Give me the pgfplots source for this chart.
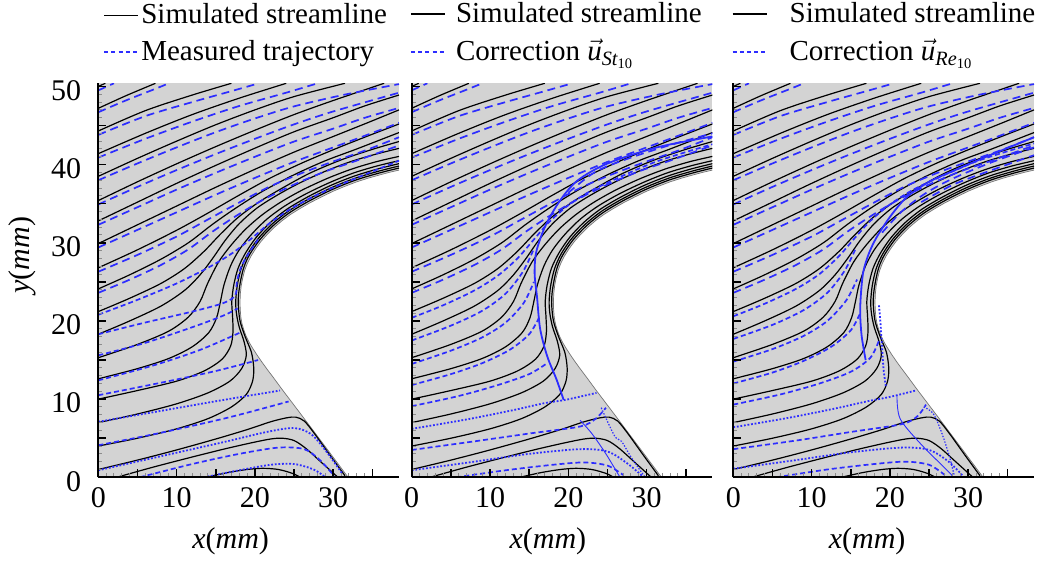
\documentclass[border=0pt]{standalone}
\usepackage{amsmath}
\usepackage{fontspec}
\setmainfont{Liberation Serif}
\usepackage{pgfplots}
\pgfplotsset{compat=1.18}
\definecolor{bgc}{RGB}{211,211,211}
\definecolor{blueL}{RGB}{45,45,255}

\pgfplotsset{
 sline/.style={black, line width=0.6pt, smooth, tension=0.5, forget plot},
 ldash/.style={blueL, line width=0.85pt, dash pattern=on 4pt off 2.5pt, smooth, tension=0.5, forget plot},
 sdash/.style={blueL, line width=0.85pt, dash pattern=on 2.5pt off 1.5pt, smooth, tension=0.5, forget plot},
 dotl/.style={blueL, line width=0.9pt, dash pattern=on 0.9pt off 0.9pt, smooth, tension=0.5, forget plot},
 thickb/.style={blueL, line width=0.9pt, smooth, tension=0.5, forget plot},
 thinb/.style={blueL, line width=0.45pt, smooth, tension=0.5, forget plot},
 thindot/.style={blueL, line width=0.6pt, dash pattern=on 0.7pt off 0.8pt, smooth, tension=0.5, forget plot},
 panel/.style={
  scale only axis, width=150.35pt, height=197pt, anchor=south west,
  xmin=0, xmax=38.4, ymin=0, ymax=50.4,
  axis x line=bottom, axis y line=left,
  axis line style={-, line width=1pt},
  tick align=inside,
  xtick={0,5,...,35}, xticklabels={0,,10,,20,,30,},
  ytick={0,5,...,50},
  minor x tick num=4, minor y tick num=4,
  major tick length=4pt, minor tick length=2pt,
  every major tick/.append style={black, line width=0.8pt},
  every minor tick/.append style={black!45, line width=0.5pt},
  axis background/.style={fill=bgc},
  axis on top,
  /pgf/number format/assume math mode=true,
  tick label style={font=\fontsize{15}{15}\selectfont},
  xticklabel style={yshift=-1.5pt},
  yticklabel style={xshift=-5pt, yshift=-2pt},
  xlabel={\textit{x}(\textit{mm})},
  every axis x label/.style={at={(axis description cs:0.44,-0.162)}, anchor=center, font=\fontsize{15}{18}\selectfont},
  every axis y label/.style={at={(axis description cs:-0.254,0.564)}, rotate=90, anchor=center, font=\fontsize{15}{18}\selectfont},
  legend style={draw=none, fill=none, inner sep=0pt, nodes={inner sep=1pt}, row sep=5pt,
     font=\fontsize{14.5}{17}\selectfont, anchor=south west},
  legend cell align=left,
 }
}

\newcommand{\bodyshape}{%
\addplot[fill=white, draw=none, forget plot] coordinates {
(31.9,0) (29,3.9) (26,7.9) (23.5,11.2) (22.4,12.7) (21.5,13.9) (20.85,14.8) (20.3,15.6) (19.75,16.45) (19.3,17.2) (18.9,18.0) (18.6,18.8) (18.35,19.65) (18.2,20.5) (18.12,21.5) (18.1,22.5) (18.14,23.5) (18.25,24.5) (18.44,25.5) (18.7,26.5) (19.05,27.4) (19.5,28.3) (20.1,29.25) (20.8,30.2) (21.6,31.1) (22.5,32.0) (23.5,32.85) (24.5,33.6) (25.7,34.35) (27,35.1) (28.5,35.87) (30,36.6) (31.5,37.23) (33,37.8) (34.5,38.28) (36,38.7) (37.2,39.02) (38.4,39.3) (39.5,39.55) (39.5,-1) (32.6,-1)} -- cycle;
\addplot[draw=black!55, line width=0.35pt, forget plot] coordinates {
(31.9,0) (29,3.9) (26,7.9) (23.5,11.2) (22.4,12.7) (21.5,13.9) (20.85,14.8) (20.3,15.6) (19.75,16.45) (19.3,17.2) (18.9,18.0) (18.6,18.8) (18.35,19.65) (18.2,20.5) (18.12,21.5) (18.1,22.5) (18.14,23.5) (18.25,24.5) (18.44,25.5) (18.7,26.5) (19.05,27.4) (19.5,28.3) (20.1,29.25) (20.8,30.2) (21.6,31.1) (22.5,32.0) (23.5,32.85) (24.5,33.6) (25.7,34.35) (27,35.1) (28.5,35.87) (30,36.6) (31.5,37.23) (33,37.8) (34.5,38.28) (36,38.7) (37.2,39.02) (38.4,39.3)};
}

\newcommand{\blacklines}{%
\addplot[sline] coordinates {(0,50.0) (0.9,50.4)};
\addplot[sline] coordinates {(0,47.2) (3.5,48.8) (7.3,50.4)};
\addplot[sline] coordinates {(0,44.3) (6,46.9) (12,48.9) (17,50.4)};
\addplot[sline] coordinates {(0,41.4) (6,44.0) (12,46.4) (18,48.5) (24,50.4)};
\addplot[sline] coordinates {(0,38.5) (5,40.8) (10,43.0) (15,45.1) (20,47.0) (25,48.7) (31.5,50.4)};
\addplot[sline] coordinates {(0,35.4) (5,37.8) (10,40.1) (15,42.3) (20,44.4) (25,46.4) (30,48.2) (36.5,50.4)};
\addplot[sline] coordinates {(0,32.8) (5,35.2) (10,37.6) (15,39.9) (20,42.1) (25,44.2) (30,46.0) (34,47.5) (38.4,48.9)};
\addplot[sline] coordinates {(0,29.9) (5,32.3) (10,34.7) (15,37.1) (20,39.4) (25,41.6) (30,43.6) (34,45.2) (38.4,47.0)};
\addplot[sline] coordinates {(0,26.8) (5,29.1) (10,31.6) (14,33.8) (18,36.1) (22,38.3) (26,40.2) (30,41.9) (34,43.5) (38.4,45.2)};
\addplot[sline] coordinates {(0,24.1) (4,25.9) (8,27.9) (11.5,30.0) (14.5,32.3) (17.5,34.4) (21,36.6) (25,38.7) (29,40.5) (33,42.0) (38.4,44.1)};
\addplot[sline] coordinates {(0,21.2) (4,22.9) (8,24.8) (11,26.7) (13.5,28.9) (15.5,31.0) (17.8,33.2) (20.5,35.2) (23.5,37.0) (27,38.9) (31,40.6) (35,41.95) (38.4,42.95)};
\addplot[sline] coordinates {(0,18.3) (4,20.0) (8,21.9) (11,23.9) (13,25.9) (14.6,28.0) (16.2,30.3) (18.0,32.45) (20.26,34.44) (22.79,36.06) (25.63,37.61) (28.87,39.1) (32.11,40.34) (35.27,41.29) (38.4,42.08)};
\addplot[sline] coordinates {(0,15.3) (5,17.0) (9,18.7) (11.5,20.5) (13.0,22.5) (13.96,24.8) (15.37,27.55) (16.98,29.72) (18.85,31.78) (21.0,33.63) (23.36,35.24) (26.09,36.77) (29.26,38.24) (32.42,39.45) (35.53,40.38) (38.4,41.05)};
\addplot[sline] coordinates {(0,12.6) (5,13.9) (9,15.2) (12,16.7) (14.1,18.5) (15.1,20.4) (15.6,22.5) (16.06,24.65) (16.9,27.07) (18.02,29.13) (19.63,31.15) (21.55,33.04) (23.76,34.67) (26.4,36.2) (29.51,37.69) (32.6,38.93) (35.68,39.85) (38.4,40.5)};
\addplot[sline] coordinates {(0,10.0) (5,11.1) (10,12.3) (13.5,13.6) (15.8,15.1) (16.9,16.8) (17.2,18.6) (17.15,20.5) (17.05,22.5) (17.3,24.6) (17.85,26.74) (18.8,28.69) (20.18,30.7) (21.96,32.59) (24.04,34.26) (26.62,35.8) (29.67,37.33) (32.74,38.55) (35.78,39.47) (38.4,40.12)};
\addplot[sline] coordinates {(0,7.0) (5,8.1) (10,9.4) (14,10.8) (16.8,12.3) (18.3,13.9) (18.9,15.6) (18.6,17.4) (18.0,19.2) (17.65,20.9) (17.55,22.5) (17.75,24.54) (18.23,26.65) (19.07,28.55) (20.41,30.52) (22.16,32.37) (24.22,34.01) (26.76,35.54) (29.8,37.06) (32.84,38.27) (35.87,39.18) (38.4,39.82)};
\addplot[sline] coordinates {(0,4.0) (5,5.0) (10,6.2) (14,7.5) (17,9.0) (18.9,10.6) (19.7,12.3) (19.85,14.0) (19.55,16.0) (18.75,18.0) (18.1,20.0) (17.88,22.0) (17.92,23.5) (18.2,25.3) (18.6,26.9) (19.28,28.42) (20.6,30.36) (22.33,32.19) (24.36,33.81) (26.88,35.32) (29.9,36.83) (32.92,38.04) (35.93,38.94) (38.4,39.56)};
\addplot[sline] coordinates {(0,1.0) (5,2.2) (10,3.5) (15,4.9) (19,6.1) (22,7.1) (24,7.6) (25.2,7.7) (26.3,7.2) (27.6,5.6) (29.5,2.95) (31.5,0.2)};
\addplot[sline] coordinates {(2.35,0) (7,1.3) (12,2.6) (16,3.6) (19.5,4.4) (22,4.9) (23.5,5.0) (25,4.7) (26.5,3.7) (28.5,1.9) (30.6,0)};
\addplot[sline] coordinates {(13.8,0) (16.5,0.6) (19,1.0) (21,1.15) (23,1.0) (24.8,0.5) (25.8,0)};
}

\newcommand{\upperblue}{%
\addplot[ldash] coordinates {(0,49.5) (2.0,50.4)};
\addplot[ldash] coordinates {(0,46.7) (3.5,48.2) (7.3,49.7) (9,50.4)};
\addplot[ldash] coordinates {(0,43.8) (6,46.2) (12,48.0) (17,49.4) (20.5,50.4)};
\addplot[ldash] coordinates {(0,40.9) (6,43.3) (12,45.5) (18,47.5) (24,49.2) (28,50.4)};
\addplot[ldash] coordinates {(0,38.0) (5,40.15) (10,42.2) (15,44.15) (20,45.9) (25,47.45) (31.5,48.96) (38.4,50.3)};
\addplot[ldash] coordinates {(0,34.9) (5,37.15) (10,39.3) (15,41.35) (20,43.3) (25,45.15) (30,46.8) (38.4,49.2)};
\addplot[ldash] coordinates {(0,32.3) (5,34.55) (10,36.8) (15,38.95) (20,41.0) (25,42.95) (30,44.6) (34,45.98) (38.4,47.25)};
\addplot[ldash] coordinates {(0,29.4) (5,31.65) (10,33.9) (15,36.15) (20,38.3) (25,40.35) (30,42.2) (34,43.68) (38.4,45.35)};
\addplot[ldash] coordinates {(0,26.3) (5,28.45) (10,30.8) (14,32.98) (18,35.16) (22,37.24) (26,38.92) (30,40.4) (34,41.78) (38.4,43.5)};
\addplot[ldash] coordinates {(0,23.6) (4,25.28) (8,27.16) (11.5,29.16) (14.5,31.37) (17.5,33.37) (21,35.47) (25,37.45) (29,39.13) (33,40.51) (38.4,42.45)};
}

\newcommand{\legendimages}{%
\addlegendimage{draw=black, line width=0.6pt, solid}
\addlegendimage{draw=blueL, line width=0.9pt, dash pattern=on 2pt off 1.6pt}
}

\begin{document}
\begin{tikzpicture}
\path[use as bounding box] (0,0) rectangle (519pt,282pt);

% ---------------- panel 1
\begin{axis}[panel, at={(49.15pt,43.35pt)},
  yticklabels={0,,10,,20,,30,,40,,50},
  ylabel={\textit{y}(\textit{mm})},
  legend style={at={(axis description cs:0.0156,1)}, yshift=8.5pt, column sep=0pt},
  legend entries={Simulated streamline, Measured trajectory}]
\legendimages
\bodyshape
\blacklines
\upperblue
\addplot[sdash] coordinates {(0,20.8) (5,22.7) (10,24.8) (14,26.8) (17,28.6) (19.5,30.5) (22,32.6) (25,34.6) (28.5,36.4) (33,38.3) (38.4,40.5)};
\addplot[sdash] coordinates {(0,18.3) (6,19.8) (12,21.2) (16,22.3) (17.5,23.3) (17.7,25) (18.2,26.8) (19.1,28.5) (20.4,30.4)};
\addplot[sdash] coordinates {(0,15.6) (6,17.2) (12,19.2) (16,20.7) (17.8,21.6)};
\addplot[sdash] coordinates {(0,12.4) (7,14.3) (13,16.3) (18.3,18.6)};
\addplot[sdash] coordinates {(0,10.5) (8,12.1) (15,13.6) (20.4,15.0)};
\addplot[dotl] coordinates {(0,7.1) (8,8.5) (16,9.9) (23.2,11.1)};
\addplot[sdash] coordinates {(0,4.1) (8,5.7) (16,7.5) (21,8.8) (24.3,9.7)};
\addplot[dotl] coordinates {(0,0.9) (8,2.7) (16,4.5) (21.5,5.8) (25,6.3) (27.2,5.5) (29.2,3.2) (31.2,0.4)};
\addplot[sdash] coordinates {(5.3,0) (12,1.7) (18,3.0) (23,3.8) (26.3,3.6) (28.3,2.2) (30.1,0.2)};
\addplot[dotl] coordinates {(13.5,0) (18,0.9) (22,1.6) (25,1.7) (27.5,1.0) (29,0)};
\end{axis}

% ---------------- panel 2
\begin{axis}[panel, at={(205.85pt,43.35pt)},
  yticklabels={},
  every axis x label/.append style={at={(axis description cs:0.453,-0.162)}},
  legend style={at={(axis description cs:-0.0067,1)}, yshift=8.5pt, column sep=4pt},
  legend entries={Simulated streamline, Correction $\vec{\textit{u}}_{\textit{St}_{\text{10}}}$}]
\legendimages
\bodyshape
\blacklines
\upperblue
\addplot[thickb] coordinates {(19.4,9.9) (18.5,12.5) (17.3,15.5) (16.4,19.0) (16.0,23.1) (15.7,26.0) (15.9,28.8) (17.0,32.0) (18.8,35.2) (21.1,37.9) (24.9,40.1) (31.3,42.2) (38.4,43.6)};
\addplot[ldash] coordinates {(20,36.4) (23.5,39.1) (28,40.9) (33,42.5) (38.4,44.0)};
\addplot[sdash] coordinates {(0,20.4) (4,22.0) (8,23.9) (11,25.8) (13.5,28.0) (15.5,30.3) (17.5,32.6) (20,34.8) (23,36.7) (27,38.6) (31,40.3) (35,41.6) (38.4,42.6)};
\addplot[sdash] coordinates {(0,17.5) (5,19.4) (9,21.3) (12,23.5) (14.2,26.3) (15.5,29.0)};
\addplot[sdash] coordinates {(0,14.5) (5,16.2) (9,17.9) (12,19.8) (14.3,22.3) (15.6,25.0)};
\addplot[sdash] coordinates {(0,11.8) (5,13.2) (9,14.6) (12.5,16.3) (15,18.3) (16.3,20.5)};
\addplot[sdash] coordinates {(0,9.1) (6,10.4) (11,11.8) (15,13.2) (17.3,14.6)};
\addplot[dotl] coordinates {(0,6.2) (7,7.4) (13,8.6) (17,9.5) (19.6,9.9) (23.6,10.8)};
\addplot[sdash] coordinates {(0,3.5) (8,4.6) (15,5.6) (21.5,6.5) (23.5,7.5) (24.8,8.9)};
\addplot[dotl] coordinates {(0,0.9) (8,2.0) (15,3.0) (21.5,3.6) (25,3.3) (27.5,1.8) (29.4,0.2)};
\addplot[sdash] coordinates {(5.7,0) (12,0.9) (18,1.6) (22,1.9) (25,1.5) (27,0.3)};
\addplot[thinb] coordinates {(21.5,7.3) (23,5.6) (24.8,3.0) (26.6,0)};
\addplot[thindot] coordinates {(24.2,8.9) (25.9,5.3) (26.8,4.6) (28,2.6) (29.8,0)};
\end{axis}

% ---------------- panel 3
\begin{axis}[panel, at={(366.65pt,43.35pt)},
  yticklabels={},
  every axis x label/.append style={at={(axis description cs:0.445,-0.162)}},
  legend style={at={(axis description cs:-0.0067,1)}, yshift=8.5pt, column sep=10pt},
  legend entries={Simulated streamline, Correction $\vec{\textit{u}}_{\textit{Re}_{\text{10}}}$}]
\legendimages
\bodyshape
\blacklines
\upperblue
\addplot[thickb] coordinates {(16.9,15.0) (16.4,18.0) (16.2,20.9) (16.3,23.5) (16.6,26.3) (17.3,28.6) (18.3,30.7) (20,33.3) (22.1,35.8) (25,37.8) (28.1,39.2) (33,41.3) (38.4,43.5)};
\addplot[ldash] coordinates {(19.0,31.3) (21.5,34.0) (24.5,36.3) (28,38.2) (33,40.3) (38.4,42.2)};
\addplot[ldash] coordinates {(24,35.2) (28,37.4) (33,39.3) (38.4,41.2)};
\addplot[dotl] coordinates {(18.6,22.0) (18.8,19.7) (19.0,16.5) (19.2,13.7) (19.5,11.5)};
\addplot[sdash] coordinates {(0,20.6) (4,22.2) (8,24.1) (11,26.0) (13.5,28.3) (15.5,30.6) (17.5,32.8) (20,34.9) (23,36.8) (27,38.7) (31,40.4) (35,41.7) (38.4,42.7)};
\addplot[sdash] coordinates {(0,17.7) (5,19.5) (9,21.4) (12,23.6) (14.2,26.4) (15.6,29.2)};
\addplot[sdash] coordinates {(0,14.8) (5,16.4) (9,18.1) (12,20.0) (14.4,22.6) (15.8,25.3)};
\addplot[sdash] coordinates {(0,12.0) (5,13.4) (9,14.9) (12.5,16.7) (15,18.8) (16.2,21.0)};
\addplot[sdash] coordinates {(0,9.3) (6,10.6) (11,12.0) (15,13.5) (17.5,15.3) (18.6,17.5)};
\addplot[dotl] coordinates {(0,6.4) (7,7.6) (13,8.8) (17,9.7) (19.6,10.2) (20.9,10.5) (23.3,11.1)};
\addplot[sdash] coordinates {(0,3.6) (8,4.7) (15,5.8) (21.5,6.8) (23.5,7.8) (24.6,9.3)};
\addplot[dotl] coordinates {(0,1.1) (8,2.2) (15,3.2) (21.5,3.8) (25,3.5) (27.5,2.0) (29.3,0.2)};
\addplot[sdash] coordinates {(5.5,0) (12,1.0) (18,1.7) (22,2.0) (25,1.6) (27,0.3)};
\addplot[thinb] coordinates {(20.9,10.5) (21.3,7.5) (24,4.2) (27.7,0.5) (28,0)};
\addplot[thindot] coordinates {(24.3,9.0) (25.5,8.2) (26.5,6.0) (27.5,3.0) (28.2,0.3)};
\end{axis}
\end{tikzpicture}
\end{document}
